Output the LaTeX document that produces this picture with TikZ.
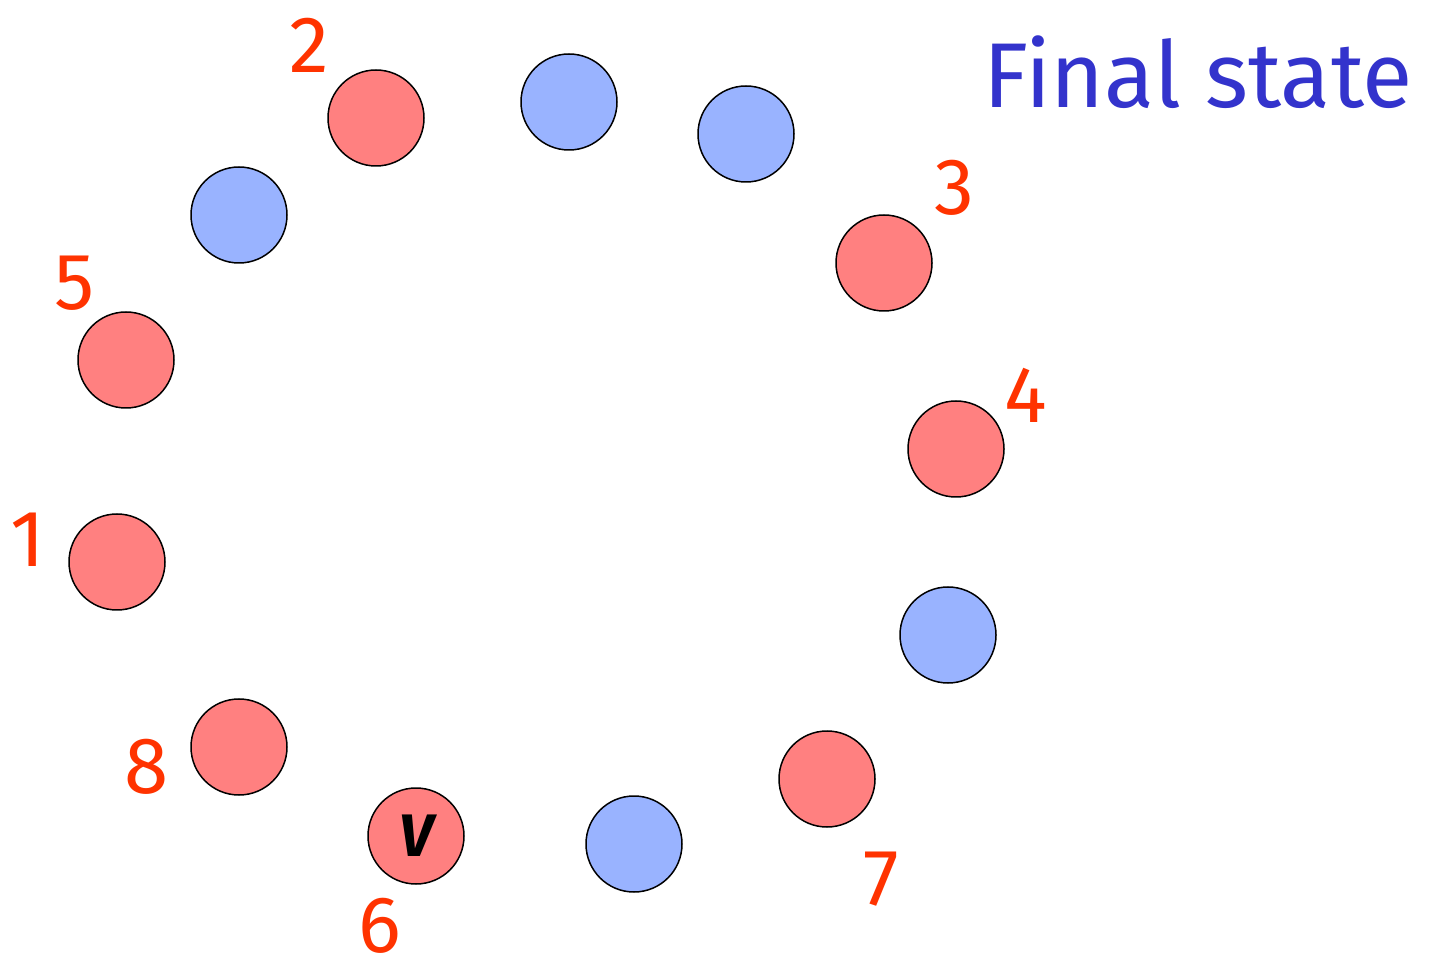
\documentclass[tikz,border=0pt]{standalone}
\usepackage{fontspec}
\setmainfont{Fira Sans}
\definecolor{rfill}{HTML}{FF8080}
\definecolor{bfill}{HTML}{99B3FF}
\definecolor{lbl}{HTML}{FF3300}
\definecolor{ttl}{HTML}{3333CC}
\begin{document}
\begin{tikzpicture}[x=0.5pt,y=-0.5pt,
  dot/.style={circle,draw=black,line width=0.75pt,minimum size=48pt,inner sep=0pt},
  rdot/.style={dot,fill=rfill},
  bdot/.style={dot,fill=bfill},
  num/.style={text=lbl,font=\fontsize{40}{42}\selectfont,inner sep=0pt}]
\useasboundingbox (0,0) rectangle (1434,961);
\node[rdot] (r2) at (376,118) {};
\node[rdot] (r3) at (884,263) {};
\node[rdot] (r4) at (956,449) {};
\node[rdot] (r5) at (126,360) {};
\node[rdot] (r1) at (117,562) {};
\node[rdot] (r8) at (239,747) {};
\node[rdot,font=\fontsize{30}{32}\selectfont\itshape\bfseries] (r6) at (416,836) {V};
\node[rdot] (r7) at (827,779) {};
\node[bdot] (b1) at (569,102) {};
\node[bdot] (b2) at (746,134) {};
\node[bdot] (b3) at (239,215) {};
\node[bdot] (b4) at (948,635) {};
\node[bdot] (b5) at (634,844) {};
\node[num] (l2) at (309,45) {2};
\node[num] (l3) at (954,188) {3};
\node[num] (l4) at (1026,395) {4};
\node[num] (l5) at (75,283) {5};
\node[num] (l1) at (28,540) {1};
\node[num] (l8) at (147,767) {8};
\node[num] (l6) at (380,926) {6};
\node[num] (l7) at (881,879) {7};
\node[text=ttl,font=\fontsize{46}{48}\selectfont,inner sep=0pt] (title) at (1198,72) {Final state};
\end{tikzpicture}
\end{document}
